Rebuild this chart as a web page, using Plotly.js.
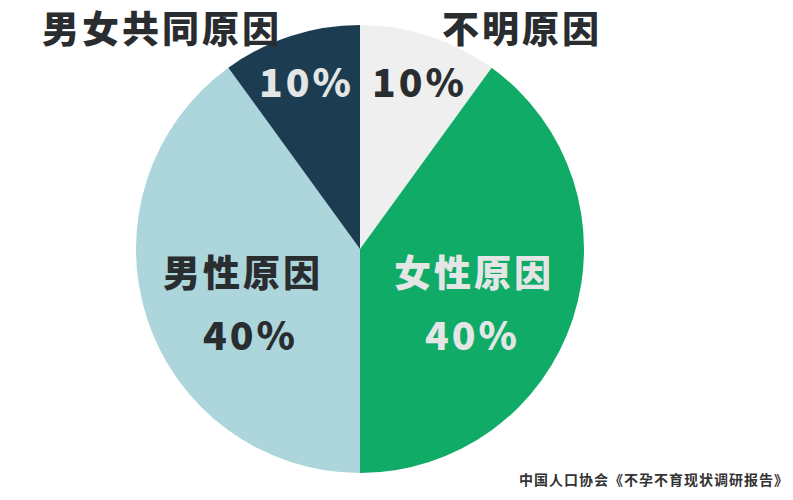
<!DOCTYPE html>
<html>
<head>
<meta charset="utf-8">
<script src="https://cdn.plot.ly/plotly-3.0.1.min.js"></script>
<style>
  html, body { margin: 0; padding: 0; background: #ffffff; }
  #chart { width: 793px; height: 500px; }
  .annotation-text { letter-spacing: 3px; }
</style>
</head>
<body>
<div id="chart"></div>
<script>
// Causes of infertility, share of cases (clockwise from 12 o'clock)
const causes = ['不明原因', '女性原因', '男性原因', '男女共同原因'];
const shares = [10, 40, 40, 10];
const sliceColors = ['#efefef', '#0fab67', '#acd5dc', '#1c3d51'];
const source = '中国人口协会《不孕不育现状调研报告》';

const W = 793, H = 500;
// pie centre and radius in pixels
const CX = 360, CY = 249, R = 224;

const px = x => x / W;
const py = y => 1 - y / H;

const cjk = '"Noto Sans CJK SC", "Noto Sans", sans-serif';
const dark = '#2a2d30';
const light = '#e4e6e6';

const pie = {
  type: 'pie',
  labels: causes,
  values: shares,
  sort: false,
  direction: 'clockwise',
  rotation: 0,
  textinfo: 'none',
  hoverinfo: 'label+percent',
  marker: { colors: sliceColors, line: { width: 0 } },
  domain: { x: [px(CX - R), px(CX + R)], y: [py(CY + R), py(CY - R)] },
  showlegend: false
};

const pct = v => v + '%';

function label(text, x, y, size, color) {
  return {
    text: text, x: px(x), y: py(y), xref: 'paper', yref: 'paper',
    xanchor: 'center', yanchor: 'middle', showarrow: false,
    font: { family: cjk, size: size, color: color, weight: 900 }
  };
}

const annotations = [
  // names of the two thin slices sit above the pie
  label(causes[3], 162, 27, 37, dark),
  label(causes[0], 522, 27, 37, dark),
  // percentages inside the thin slices
  label(pct(shares[3]), 306, 80, 39, light),
  label(pct(shares[0]), 420, 80, 39, dark),
  // name and percentage inside the large slices
  label(causes[2], 243, 271, 37, dark),
  label(pct(shares[2]), 250, 333, 39, dark),
  label(causes[1], 474, 271, 37, light),
  label(pct(shares[1]), 473, 333, 39, light),
  // source note
  {
    text: '<span style="letter-spacing:1px">' + source + '</span>',
    x: px(791), y: py(479), xref: 'paper', yref: 'paper',
    xanchor: 'right', yanchor: 'middle', showarrow: false,
    font: { family: cjk, size: 14, color: '#333333', weight: 700 }
  }
];

const layout = {
  width: W, height: H,
  margin: { l: 0, r: 0, t: 0, b: 0 },
  paper_bgcolor: '#ffffff',
  plot_bgcolor: '#ffffff',
  annotations: annotations
};

Plotly.newPlot('chart', [pie], layout, { displayModeBar: false, staticPlot: true });
</script>
</body>
</html>
